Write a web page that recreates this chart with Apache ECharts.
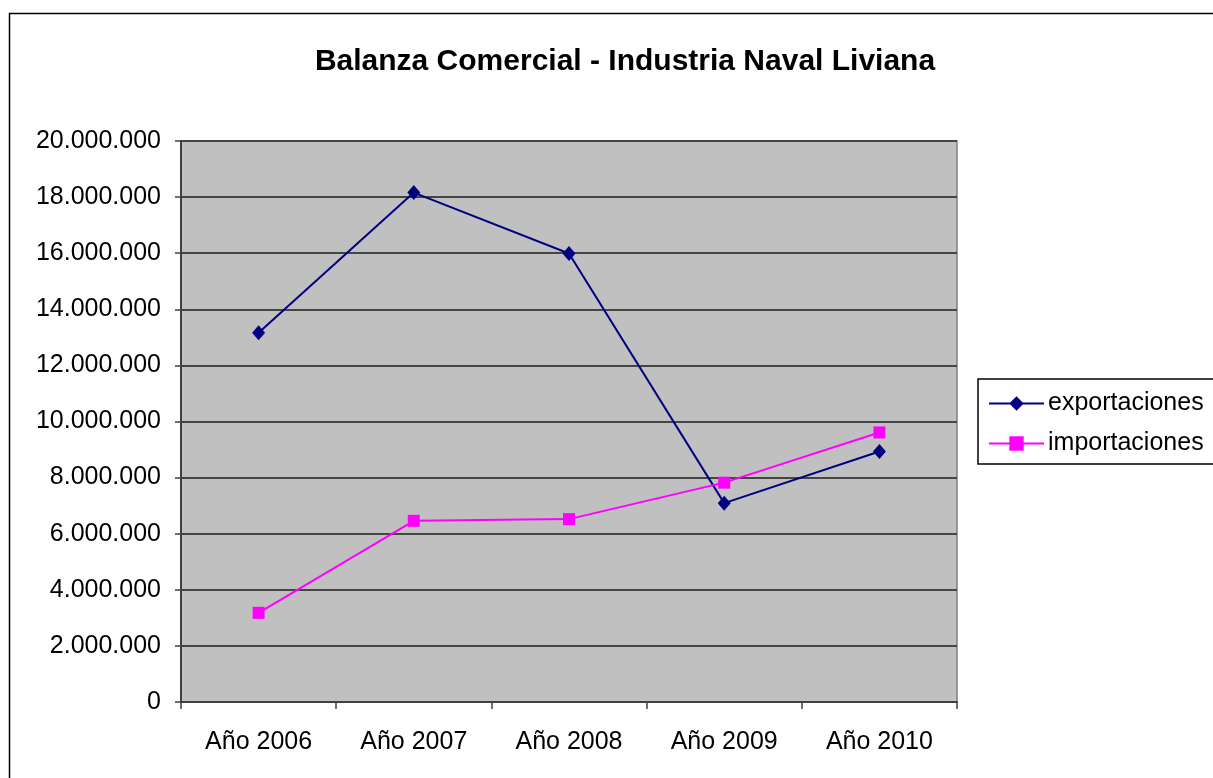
<!DOCTYPE html>
<html>
<head>
<meta charset="utf-8">
<title>Balanza Comercial - Industria Naval Liviana</title>
<script src="https://cdn.jsdelivr.net/npm/echarts@6/dist/echarts.min.js"></script>
<style>
  html, body { margin: 0; padding: 0; background: #fff; }
  #chart { width: 1213px; height: 778px; }
</style>
</head>
<body>
<div id="chart"></div>
<script>
'use strict';

/* ── Data ── */
const years = ['Año 2006', 'Año 2007', 'Año 2008', 'Año 2009', 'Año 2010'];
const exportaciones = [13160000, 18160000, 15990000, 7090000, 8930000];
const importaciones = [3180000, 6460000, 6520000, 7820000, 9610000];

const FONT = "'Liberation Sans', Arial, sans-serif";

/* 20000000 -> 20.000.000 */
function fmtDots(v) {
  return String(v).replace(/\B(?=(\d{3})+(?!\d))/g, '.');
}

const chart = echarts.init(document.getElementById('chart'), null, { renderer: 'canvas' });

chart.setOption({
  backgroundColor: '#fff',
  animation: false,
  textStyle: { fontFamily: FONT, color: '#000' },
  graphic: [{
    type: 'rect',
    silent: true,
    shape: { x: 9.5, y: 13.5, width: 1400, height: 900 },
    style: { fill: 'none', stroke: '#000', lineWidth: 1.5 }
  }],
  title: {
    text: 'Balanza Comercial - Industria Naval Liviana',
    left: 620,
    textAlign: 'center',
    top: 42,
    textStyle: { fontFamily: FONT, fontSize: 30, fontWeight: 'bold', color: '#000' }
  },
  legend: {
    orient: 'vertical',
    left: 978,
    top: 379,
    padding: [12, 60, 8, 10],
    itemWidth: 55,
    itemHeight: 18,
    itemGap: 15,
    borderColor: '#000',
    borderWidth: 1.5,
    textStyle: { fontFamily: FONT, fontSize: 25, color: '#000', padding: [0, 0, 0, -1] },
    data: ['exportaciones', 'importaciones']
  },
  grid: {
    left: 181,
    top: 141,
    width: 776,
    height: 561,
    show: true,
    backgroundColor: '#c0c0c0',
    borderColor: '#808080',
    borderWidth: 1.5
  },
  xAxis: {
    type: 'category',
    data: years,
    boundaryGap: true,
    axisLine: { lineStyle: { color: '#404040', width: 2 } },
    axisTick: { show: true, length: 7, lineStyle: { color: '#404040', width: 1.5 } },
    axisLabel: { fontFamily: FONT, fontSize: 25, color: '#000', margin: 28 },
    splitLine: { show: false }
  },
  yAxis: {
    type: 'value',
    min: 0,
    max: 20000000,
    interval: 2000000,
    axisLine: { show: true, lineStyle: { color: '#404040', width: 2 } },
    axisTick: { show: true, length: 6, lineStyle: { color: '#404040', width: 1.5 } },
    axisLabel: { fontFamily: FONT, fontSize: 25, color: '#000', margin: 20, formatter: fmtDots },
    splitLine: { show: true, lineStyle: { color: '#454545', width: 2 } }
  },
  series: [
    {
      name: 'exportaciones',
      type: 'line',
      data: exportaciones,
      symbol: 'diamond',
      symbolSize: [13, 15],
      showAllSymbol: true,
      lineStyle: { color: '#000080', width: 2 },
      itemStyle: { color: '#000080' }
    },
    {
      name: 'importaciones',
      type: 'line',
      data: importaciones,
      symbol: 'rect',
      symbolSize: 12,
      showAllSymbol: true,
      lineStyle: { color: '#ff00ff', width: 2 },
      itemStyle: { color: '#ff00ff' }
    }
  ]
});
</script>
</body>
</html>
